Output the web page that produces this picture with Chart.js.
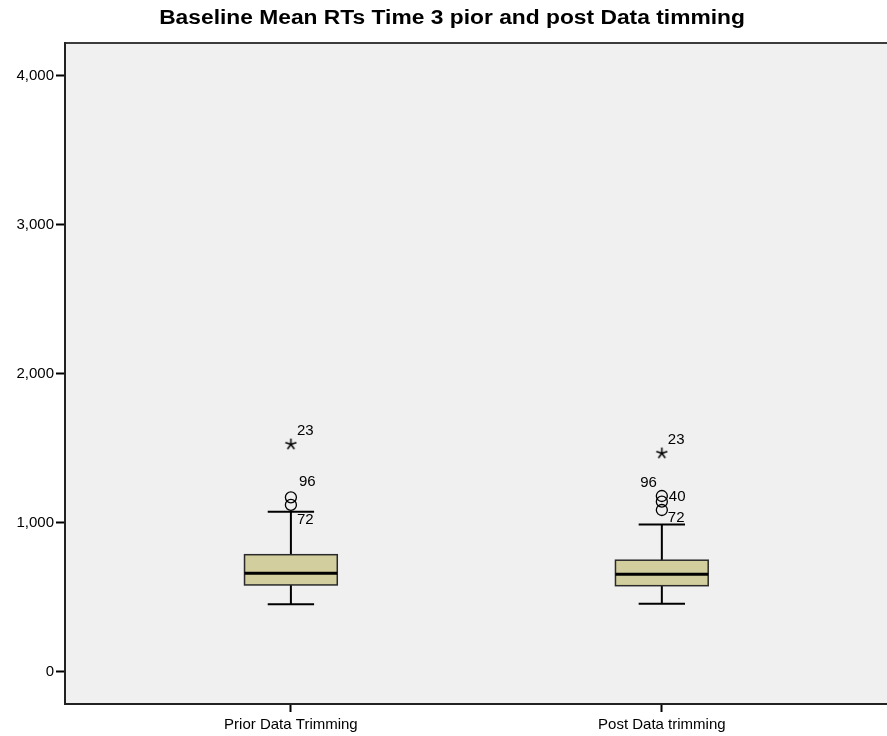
<!DOCTYPE html>
<html>
<head>
<meta charset="utf-8">
<script src="https://cdn.jsdelivr.net/npm/chart.js@4.4.1/dist/chart.umd.min.js"></script>
<style>
  html, body { margin: 0; padding: 0; background: #fff; overflow: hidden; }
  canvas { display: block; }
</style>
</head>
<body>
<canvas id="box" width="887" height="736"></canvas>
<script>
// groups and their five-number summaries
const groups = ['Prior Data Trimming', 'Post Data trimming'];
const whiskerLow = [454, 458];
const q1 = [584, 579];
const median = [662, 656];
const q3 = [787, 750];
const whiskerHigh = [1076, 989];

// outliers (circles) and extremes (stars), with case labels
const outlierGroup = [1, 1, 2, 2, 2];
const outlierValue = [1172, 1121, 1181, 1143, 1087];
const outlierCase = ['96', '72', '96', '40', '72'];
const extremeGroup = [1, 2];
const extremeValue = [1528, 1468];
const extremeCase = ['23', '23'];

const yTicks = [0, 1000, 2000, 3000, 4000];

const FONT = "'Liberation Sans', Arial, sans-serif";

// label placement relative to the point, px: [dx, dy, align]
const outlierLabelPos = [[8, -15, 'left'], [6, 15, 'left'], [-5, -13, 'right'], [7, -5, 'left'], [6, 8, 'left']];
const extremeLabelPos = [[6, -13, 'left'], [6, -13, 'left']];

function starCanvas() {
  const c = document.createElement('canvas');
  c.width = c.height = 13;
  const g = c.getContext('2d');
  g.strokeStyle = '#000';
  g.lineWidth = 1.5;
  g.beginPath();
  for (let k = 0; k < 5; k++) {
    const a = -Math.PI / 2 + k * 2 * Math.PI / 5;
    g.moveTo(6.5, 6.5);
    g.lineTo(6.5 + 5.8 * Math.cos(a), 6.5 + 5.8 * Math.sin(a));
  }
  g.stroke();
  return c;
}

const boxPlugin = {
  id: 'boxes',
  beforeDraw(chart) {
    const { ctx, chartArea: a } = chart;
    ctx.save();
    ctx.fillStyle = '#fff';
    ctx.fillRect(0, 0, chart.width, chart.height);
    ctx.fillStyle = '#f0f0f0';
    ctx.fillRect(a.left, a.top, a.right - a.left, a.bottom - a.top);
    ctx.strokeStyle = '#3c3c3c';
    ctx.lineWidth = 2;
    ctx.beginPath();
    ctx.moveTo(a.left, a.top);
    ctx.lineTo(a.right, a.top);
    ctx.stroke();
    ctx.restore();
  },
  beforeDatasetsDraw(chart) {
    const { ctx, scales: { x, y } } = chart;
    ctx.save();
    groups.forEach((g, i) => {
      const cx = x.getPixelForValue(i + 1);
      const hw = x.getPixelForValue(i + 1.125) - cx;
      const cw = hw / 2;
      const yLo = y.getPixelForValue(whiskerLow[i]);
      const yHi = y.getPixelForValue(whiskerHigh[i]);
      const y1 = y.getPixelForValue(q1[i]);
      const y3 = y.getPixelForValue(q3[i]);
      const ym = y.getPixelForValue(median[i]);
      ctx.strokeStyle = '#000';
      ctx.lineWidth = 2;
      ctx.beginPath();
      ctx.moveTo(cx, yHi); ctx.lineTo(cx, y3);
      ctx.moveTo(cx, y1); ctx.lineTo(cx, yLo);
      ctx.moveTo(cx - cw, yHi); ctx.lineTo(cx + cw, yHi);
      ctx.moveTo(cx - cw, yLo); ctx.lineTo(cx + cw, yLo);
      ctx.stroke();
      ctx.fillStyle = '#d3ce9d';
      ctx.fillRect(cx - hw, y3, 2 * hw, y1 - y3);
      ctx.strokeStyle = '#2a2a2a';
      ctx.lineWidth = 1.5;
      ctx.strokeRect(cx - hw, y3, 2 * hw, y1 - y3);
      ctx.strokeStyle = '#000';
      ctx.lineWidth = 3;
      ctx.beginPath();
      ctx.moveTo(cx - hw, ym); ctx.lineTo(cx + hw, ym);
      ctx.stroke();
    });
    ctx.restore();
  },
  afterDatasetsDraw(chart) {
    const { ctx, scales: { x, y } } = chart;
    ctx.save();
    ctx.fillStyle = '#000';
    ctx.font = '15px ' + FONT;
    ctx.textBaseline = 'middle';
    const put = (gx, v, txt, pos) => {
      ctx.textAlign = pos[2];
      ctx.fillText(txt, x.getPixelForValue(gx) + pos[0], y.getPixelForValue(v) + pos[1]);
    };
    outlierValue.forEach((v, i) => put(outlierGroup[i], v, outlierCase[i], outlierLabelPos[i]));
    extremeValue.forEach((v, i) => put(extremeGroup[i], v, extremeCase[i], extremeLabelPos[i]));
    // title, stretched a little to the width of the original
    ctx.font = 'bold 20px ' + FONT;
    ctx.textAlign = 'center';
    ctx.translate(452, 18);
    ctx.scale(1.14, 1);
    ctx.fillText('Baseline Mean RTs Time 3 pior and post Data timming', 0, 0);
    ctx.restore();
  }
};

new Chart(document.getElementById('box'), {
  type: 'scatter',
  data: {
    datasets: [
      {
        label: 'Outliers',
        data: outlierValue.map((v, i) => ({ x: outlierGroup[i], y: v })),
        pointStyle: 'circle',
        pointRadius: 5.5,
        borderColor: '#000',
        borderWidth: 1.3,
        backgroundColor: 'rgba(0,0,0,0)'
      },
      {
        label: 'Extremes',
        data: extremeValue.map((v, i) => ({ x: extremeGroup[i], y: v })),
        pointStyle: starCanvas(),
        pointRadius: 6
      }
    ]
  },
  options: {
    responsive: false,
    animation: false,
    layout: { autoPadding: false, padding: { top: 43, left: 0, right: 0, bottom: 0 } },
    plugins: { legend: { display: false }, tooltip: { enabled: false } },
    scales: {
      x: {
        type: 'linear',
        min: 0.391,
        max: 2.607,
        afterBuildTicks: s => { s.ticks = [{ value: 1 }, { value: 2 }]; },
        afterFit: s => { s.height = 32; s.paddingLeft = 0; s.paddingRight = 0; },
        ticks: {
          color: '#000',
          font: { family: FONT, size: 15 },
          padding: 4,
          callback: v => groups[v - 1]
        },
        grid: { drawOnChartArea: false, color: '#000', tickLength: 8, tickWidth: 2 },
        border: { display: true, color: '#222', width: 2 }
      },
      y: {
        min: -215,
        max: 4221,
        afterBuildTicks: s => { s.ticks = yTicks.map(v => ({ value: v })); },
        afterFit: s => { s.width = 65; s.paddingTop = 0; s.paddingBottom = 0; },
        ticks: {
          color: '#000',
          font: { family: FONT, size: 15 },
          padding: 2,
          callback: v => v.toLocaleString('en-US')
        },
        grid: { drawOnChartArea: false, color: '#000', tickLength: 9, tickWidth: 2 },
        border: { display: true, color: '#222', width: 2 }
      }
    }
  },
  plugins: [boxPlugin]
});
</script>
</body>
</html>
